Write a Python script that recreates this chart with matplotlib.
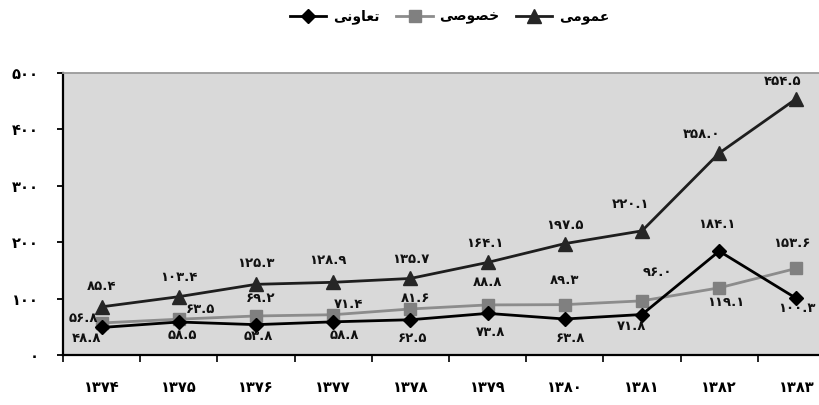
import matplotlib
matplotlib.use("Agg")
import matplotlib.pyplot as plt
import numpy as np

plt.rcParams['font.family'] = ['DejaVu Sans']
plt.rcParams['font.weight'] = 'bold'

# years 1374..1383 (Persian digits)
years = ['۱۳۷۴', '۱۳۷۵', '۱۳۷۶', '۱۳۷۷', '۱۳۷۸', '۱۳۷۹', '۱۳۸۰', '۱۳۸۱', '۱۳۸۲', '۱۳۸۳']
# series values
omumi = [85.4, 103.4, 125.3, 128.9, 135.7, 164.1, 197.5, 220.1, 358.0, 454.5]
khosusi = [56.8, 63.5, 69.2, 71.4, 81.6, 88.8, 89.3, 96.0, 119.1, 153.6]
taavoni = [48.8, 58.5, 53.8, 58.8, 62.5, 73.8, 63.8, 71.8, 184.1, 100.3]
yticks = [0, 100, 200, 300, 400, 500]

# legend names, already in visual (shaped, reversed) order since matplotlib has no arabic shaping
name_taavoni = '\uFEF0\uFEE7\uFEED\uFE8E\uFECC\uFE97'   # تعاونی
name_khosusi = '\uFEF0\uFEBB\uFEEE\uFEBC\uFEA7'         # خصوصی
name_omumi = '\uFEF0\uFEE3\uFEEE\uFEE4\uFECB'           # عمومی

fa_digits = str.maketrans('0123456789', '۰۱۲۳۴۵۶۷۸۹')
def fa(v, fmt='{:.1f}'):
    return fmt.format(v).translate(fa_digits)

# label offsets in pixels (dx, dy up)
off_omumi = [(0, 20), (0, 19), (0, 21), (-5, 22), (0, 19), (-3, 19), (0, 18), (-11, 26), (-18, 19), (-14, 17)]
off_khosusi = [(-18, 4), (22, 10), (5, 17), (15, 10), (5, 10), (0, 22), (0, 24), (15, 28), (7, -15), (-5, 25)]
off_taavoni = [(-15, -11), (4, -13), (2, -12), (11, -14), (2, -19), (3, -19), (6, -19), (-10, -12), (-2, 27), (0, -10)]

fig = plt.figure(figsize=(8.2, 4.05), dpi=100)
ax = fig.add_axes([63/820, 50/405, 772/820, 282/405])
ax.set_facecolor('#d9d9d9')

x = np.arange(len(years))
l1, = ax.plot(x, taavoni, color='#000000', lw=2.0, marker='D', ms=7, mfc='#000000', mec='#000000', label=name_taavoni, zorder=3)
l2, = ax.plot(x, khosusi, color='#8c8c8c', lw=2.0, marker='s', ms=9, mfc='#808080', mec='#808080', label=name_khosusi, zorder=2)
l3, = ax.plot(x, omumi, color='#1e1e1e', lw=2.0, marker='^', ms=9.5, mfc='#262626', mec='#262626', label=name_omumi, zorder=2)

for vals, offs in [(omumi, off_omumi), (khosusi, off_khosusi), (taavoni, off_taavoni)]:
    for i, v in enumerate(vals):
        dx, dy = offs[i]
        ax.annotate(fa(v), (i, v), xytext=(dx*0.72, dy*0.72), textcoords='offset points',
                    ha='center', va='center', fontsize=9.5, fontweight='bold', color='#111111')

ax.set_xlim(-0.5, len(years) - 0.5)
ax.set_ylim(0, 500)
ax.set_yticks(yticks)
ax.set_yticklabels([fa(t, '{:d}') for t in yticks], fontsize=10.5, fontweight='bold')
ax.tick_params(axis='y', direction='out', length=4.5, width=1.3, pad=13)

ax.set_xticks(x)
ax.set_xticklabels(years, fontsize=10.5, fontweight='bold')
ax.set_xticks(np.arange(-0.5, len(years), 1.0), minor=True)
ax.tick_params(axis='x', which='major', length=0, pad=18)
ax.tick_params(axis='x', which='minor', direction='out', length=5, width=1.2)

for s in ['left', 'bottom']:
    ax.spines[s].set_linewidth(1.6)
    ax.spines[s].set_color('#000000')
ax.spines['top'].set_color('#9a9a9a')
ax.spines['top'].set_linewidth(1.3)
ax.spines['right'].set_visible(False)

fig.legend(handles=[l1, l2, l3], loc='center', bbox_to_anchor=(450/820, 1 - 17/405), ncol=3,
           frameon=False, handlelength=2.6, columnspacing=1.2, handletextpad=0.5,
           prop={'weight': 'bold', 'size': 10})

fig.savefig('out.png', dpi=100)
